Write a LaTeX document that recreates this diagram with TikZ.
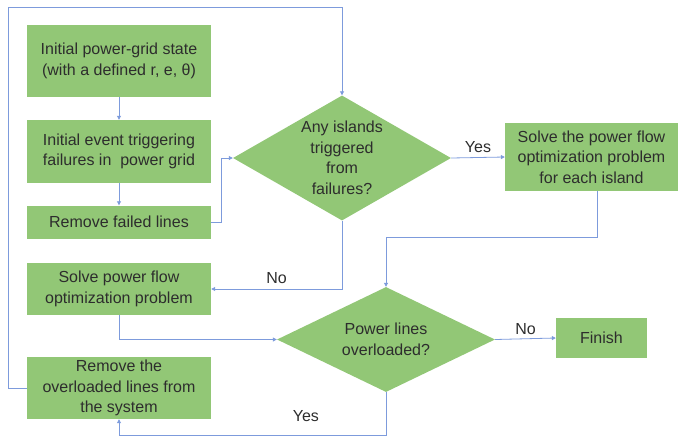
\documentclass[tikz,border=0pt]{standalone}
\usepackage{fontspec}
\setmainfont{Liberation Sans}
\usetikzlibrary{shapes.geometric,arrows.meta}
\definecolor{boxgreen}{RGB}{146,199,118}
\definecolor{linkblue}{RGB}{125,155,220}
\definecolor{txt}{RGB}{45,45,45}
\begin{document}
\begin{tikzpicture}[x=1pt,y=-1pt,
  box/.style={rectangle, fill=boxgreen, inner sep=0pt, align=center, text=txt,
    font=\fontsize{16}{20.5}\selectfont},
  dia/.style={diamond, fill=boxgreen, inner sep=0pt, align=center, text=txt,
    font=\fontsize{16}{20.5}\selectfont},
  link/.style={draw=linkblue, line width=0.8pt, -{Triangle[length=4pt,width=4pt]}},
  lbl/.style={text=txt, font=\fontsize{16}{20}\selectfont, inner sep=1pt}]
\useasboundingbox (0,0) rectangle (682,437);

\node[box, minimum width=184pt, minimum height=72pt] (b1) at (119,61)
  {Initial power-grid state\\(with a defined r, e, θ)};
\node[box, minimum width=184pt, minimum height=63pt] (b2) at (119,151.5)
  {Initial event triggering\\failures in~ power grid};
\node[box, minimum width=184pt, minimum height=33pt] (b3) at (119,222)
  {Remove failed lines};
\node[dia, minimum width=218pt, minimum height=125pt, aspect=1.74] (d1) at (342,158)
  {Any islands\\triggered\\from\\failures?};
\node[box, minimum width=173pt, minimum height=68pt] (b4) at (591.5,157)
  {Solve the power flow\\optimization problem\\for each island};
\node[box, minimum width=184pt, minimum height=52pt] (b5) at (119,289)
  {Solve power flow\\optimization problem};
\node[dia, minimum width=218pt, minimum height=105pt, aspect=2] (d2) at (386,339.5)
  {Power lines\\overloaded?};
\node[box, minimum width=184pt, minimum height=62pt] (b6) at (119,388)
  {Remove the\\overloaded lines from\\the system};
\node[box, minimum width=91pt, minimum height=40pt] (fin) at (601.5,338)
  {Finish};

\draw[link] (b1.south) -- (b2.north);
\draw[link] (b2.south) -- (b3.north);
\draw[link] (b3.east) -- ++(10,0) |- (d1.west);
\draw[link] (d1.east) -- node[lbl, above=3pt] {Yes} (b4.west);
\draw[link] ([xshift=6pt]b4.south) -- ++(0,46) -| (d2.north);
\draw[link] (d1.south) |- node[lbl, pos=0.75, above=4pt] {No} (b5.east);
\draw[link] (b5.south) |- (d2.west);
\draw[link] (d2.east) -- node[lbl, above=3pt] {No} (fin.west);
\draw[link] (d2.south) -- ++(0,43) -| node[lbl, pos=0.15, above=12pt] {Yes} (b6.south);
\draw[link] (b6.west) -- ++(-18,0) |- ([yshift=87.5pt]d1.north) -- (d1.north);
\end{tikzpicture}
\end{document}
